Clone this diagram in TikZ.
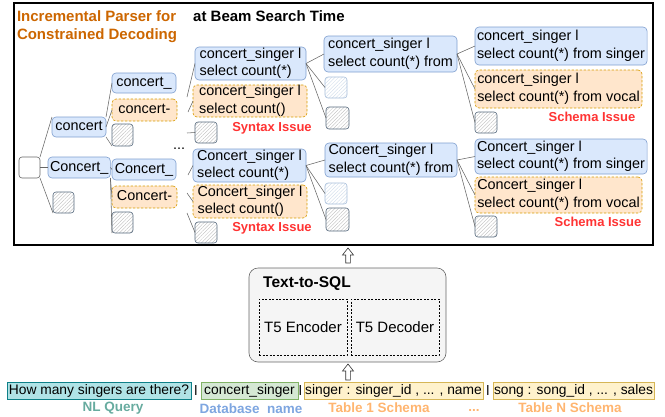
\documentclass[tikz,border=0pt]{standalone}
\usepackage{fontspec}
\setmainfont{Liberation Sans}
\usetikzlibrary{patterns.meta,calc}
\definecolor{bfill}{HTML}{DAE8FC}
\definecolor{bline}{HTML}{7F9FCF}
\definecolor{ofill}{HTML}{FFE6CC}
\definecolor{oline}{HTML}{D79B00}
\definecolor{hdark}{HTML}{56697D}
\definecolor{hlight}{HTML}{A8BFDB}
\definecolor{edgec}{HTML}{666666}
\definecolor{issue}{HTML}{FF3333}
\definecolor{titleor}{HTML}{CC6600}
\definecolor{nlfill}{HTML}{B0E3E6}
\definecolor{nlline}{HTML}{0E8088}
\definecolor{dbfill}{HTML}{D5E8D4}
\definecolor{dbline}{HTML}{82B366}
\definecolor{tfill}{HTML}{FFF2CC}
\definecolor{tline}{HTML}{D6B656}
\definecolor{nlc}{HTML}{67AB9F}
\definecolor{dbc}{HTML}{7EA6E0}
\definecolor{tc}{HTML}{FFB570}
\definecolor{boxfill}{HTML}{F5F5F5}
\newcommand{\hollowup}[2]{%
  \draw[hollowsty] let \p1=(#1), \p2=(#2) in
    (\x1-2.3pt,\y1) -- (\x1-2.3pt,\y2-7pt) -- (\x1-5.5pt,\y2-7pt) -- (\x2,\y2)
    -- (\x1+5.5pt,\y2-7pt) -- (\x1+2.3pt,\y2-7pt) -- (\x1+2.3pt,\y1) -- cycle;}
\tikzset{
  anch/.style={anchor=north west, inner sep=0pt, outer sep=0pt},
  tok/.style={anch, rounded corners=4pt, line width=0.6pt, inner xsep=2pt, align=left,
    font=\fontsize{14.4}{17.5}\selectfont},
  one/.style={text height=10.4pt, text depth=3.2pt},
  okbox/.style={tok, draw=bline, fill=bfill},
  badbox/.style={tok, draw=oline, fill=ofill, dash pattern=on 2.5pt off 1.5pt},
  hatchd/.style={anch, rounded corners=3pt, line width=0.6pt, draw=hdark,
    preaction={fill=white}, pattern={Lines[angle=45,distance=2.5pt,line width=0.35pt]},
    pattern color=gray!55, minimum width=22pt, minimum height=21pt},
  hatchl/.style={hatchd, draw=hlight, pattern color=hlight!60},
  emptybox/.style={anch, rounded corners=3pt, draw=edgec, fill=white, line width=0.6pt,
    minimum width=21pt, minimum height=21pt},
  link/.style={draw=edgec, line width=0.55pt},
  issuetxt/.style={text=issue, font=\bfseries\fontsize{13}{15}\selectfont, inner sep=0pt},
  hollowsty/.style={draw=black!80, fill=white, line width=0.6pt, line join=miter},
  rowsty/.style={anch, font=\fontsize{13.8}{16}\selectfont, inner xsep=1pt, inner ysep=0pt,
    minimum height=17pt, line width=0.6pt, text height=10pt, text depth=3pt},
  sepsty/.style={inner sep=0pt, font=\fontsize{13.8}{16}\selectfont},
  lblsty/.style={inner sep=0pt, font=\bfseries\fontsize{13.5}{15}\selectfont},
}
\begin{document}
\begin{tikzpicture}[x=1pt,y=-1pt]
\useasboundingbox (0,0) rectangle (665,416);
% frame
\node[anch, draw, line width=1.3pt, minimum width=639pt, minimum height=242pt] (frame) at (14,3) {};
\node[anch, align=left, text=titleor, font=\bfseries\fontsize{15}{18}\selectfont] (title) at (17,10.8)
  {Incremental Parser for\\Constrained Decoding};
\node[anchor=base west, inner sep=0pt, font=\bfseries\fontsize{15}{18}\selectfont] (beam) at (193,21.5)
  {at Beam Search Time};
% level 0/1
\node[emptybox] (r) at (19,157) {};
\node[okbox, one, minimum width=54pt, minimum height=20pt] (n1) at (52,117) {concert};
\node[okbox, one, minimum width=58pt, minimum height=21pt] (n2) at (48,157) {Concert\_};
\node[hatchd, minimum width=21pt] (h1) at (53,192) {};
% level 2
\node[okbox, one, minimum width=64pt, minimum height=20pt] (n11) at (112,73) {concert\_};
\node[badbox, one, minimum width=65pt, minimum height=22pt] (n12) at (112,99) {concert-};
\node[hatchd, minimum width=21pt, minimum height=22pt] (h11) at (112,124) {};
\node[okbox, one, minimum width=64pt, minimum height=21pt] (n21) at (112,159) {Concert\_};
\node[badbox, one, minimum width=65pt, minimum height=22pt] (n22) at (112,186) {Concert-};
\node[hatchd, minimum width=21pt] (h21) at (112,212) {};
% level 3
\node[okbox, minimum width=111pt, minimum height=33pt] (n111) at (195,47) {concert\_singer l\\select count(*)};
\node[badbox, minimum width=114pt, minimum height=32pt] (n112) at (193,85) {concert\_singer l\\select count()};
\node[issuetxt] (s1) at (272,128) {Syntax Issue};
\node[hatchd] (h111) at (195,122) {};
\node[inner sep=0pt, font=\fontsize{14.4}{17.5}\selectfont] (dots) at (179,149) {...};
\node[okbox, minimum width=113pt, minimum height=33pt] (n211) at (193,149) {Concert\_singer l\\select count(*)};
\node[badbox, minimum width=114pt, minimum height=33pt] (n212) at (193,185) {Concert\_singer l\\select count()};
\node[issuetxt] (s2) at (272,228) {Syntax Issue};
\node[hatchd] (h211) at (195,222) {};
% level 4
\node[okbox, minimum width=133pt, minimum height=36pt] (n1111) at (324,36) {concert\_singer l\\select count(*) from};
\node[hatchl] (hl1) at (325,77) {};
\node[hatchd, minimum width=23pt, minimum height=22pt] (hd1) at (326,107) {};
\node[okbox, minimum width=132pt, minimum height=34pt] (n2111) at (325,143) {Concert\_singer l\\select count(*) from};
\node[hatchl] (hl2) at (325,183) {};
\node[hatchd, minimum width=23pt, minimum height=23pt] (hd2) at (326,208) {};
% level 5
\node[okbox, minimum width=172pt, minimum height=38pt] (n11111) at (475,27) {concert\_singer l\\select count(*) from singer};
\node[badbox, minimum width=167pt, minimum height=38pt] (n11112) at (475,70) {concert\_singer l\\select count(*) from vocal};
\node[issuetxt] (sc1) at (592,117) {Schema Issue};
\node[hatchd] (h11113) at (475,112) {};
\node[okbox, minimum width=172pt, minimum height=35pt] (n21111) at (475,139) {Concert\_singer l\\select count(*) from singer};
\node[badbox, minimum width=167pt, minimum height=36pt] (n21112) at (475,177) {Concert\_singer l\\select count(*) from vocal};
\node[issuetxt] (sc2) at (598,222) {Schema Issue};
\node[hatchd] (h21113) at (475,216) {};
% connectors
\draw[link] (r.north east) -- (n1.north west);
\draw[link] (r.east) -- (n2.west);
\draw[link] (r.south east) -- (h1.south west);
\draw[link] (n1.north east) -- (n11.west);
\draw[link] (n1.east) -- (n12.west);
\draw[link] (n1.south east) -- (h11.south west);
\draw[link] (n2.east) -- (n21.west);
\draw[link] (n2.south east) -- (n22.west);
\draw[link] (n2.south east) -- (h21.south west);
\coordinate (st1) at (187,97);
\coordinate (st2) at (188,112);
\coordinate (st3) at (187,133);
\coordinate (st4) at (188,175);
\coordinate (st5) at (187,193);
\coordinate (st6) at (187,213);
\draw[link] (st1) -- (n111.west);
\draw[link] (st2) -- (n112.west);
\draw[link] (st3) -- (h111.west);
\draw[link] (st4) -- (n211.west);
\draw[link] (st5) -- (n212.west);
\draw[link] (st6) -- (h211.west);
\draw[link] (n111.east) -- (n1111.west);
\draw[link] (n111.east) -- (hl1.west);
\draw[link] (n111.east) -- (hd1.west);
\draw[link] (n211.east) -- (n2111.west);
\draw[link] (n211.east) -- (hl2.west);
\draw[link] (n211.east) -- (hd2.west);
\draw[link] (n1111.east) -- (n11111.west);
\draw[link] (n1111.east) -- (n11112.west);
\draw[link] (n1111.east) -- (h11113.west);
\draw[link] (n2111.east) -- (n21111.west);
\draw[link] (n2111.east) -- (n21112.west);
\draw[link] (n2111.east) -- (h21113.west);
% model
\node[anch, draw=edgec, fill=boxfill, rounded corners=9pt, line width=0.6pt,
  minimum width=197pt, minimum height=94pt] (tts) at (249,268) {};
\node[anchor=west, inner sep=0pt, font=\bfseries\fontsize{15.5}{18}\selectfont] (ttsl) at (263,284) {Text-to-SQL};
\node[anch, draw, line width=0.6pt, dash pattern=on 2pt off 1.5pt, minimum width=88pt, minimum height=56pt,
  font=\fontsize{15}{18}\selectfont] (enc) at (259,299) {T5 Encoder};
\node[anch, draw, line width=0.6pt, dash pattern=on 2pt off 1.5pt, minimum width=88pt, minimum height=56pt,
  font=\fontsize{15}{18}\selectfont] (dec) at (351,299) {T5 Decoder};
\coordinate (a1s) at (348,263);
\coordinate (a1e) at (348,248);
\coordinate (a2s) at (348,380);
\coordinate (a2e) at (348,364);
\hollowup{a1s}{a1e}
\hollowup{a2s}{a2e}
% input row
\node[rowsty, draw=nlline, fill=nlfill, minimum width=184pt] (q) at (7,382) {How many singers are there?};
\node[sepsty] (p1) at (196,390.5) {l};
\node[rowsty, draw=dbline, fill=dbfill, minimum width=97pt] (db) at (201,382) {concert\_singer};
\node[sepsty] (p2) at (300.5,390.5) {l};
\node[rowsty, draw=tline, fill=tfill, minimum width=179pt] (t1) at (304,382) {singer : singer\_id , ... , name};
\node[sepsty] (p3) at (488,390.5) {l};
\node[rowsty, draw=tline, fill=tfill, minimum width=161pt] (tn) at (493,382) {song : song\_id , ... , sales};
\node[lblsty, text=nlc] (lq) at (113,408) {NL Query};
\node[lblsty, text=dbc] (ldb) at (251,408.5) {Database\ \ name};
\node[lblsty, text=tc] (lt1) at (379,408) {Table 1 Schema};
\node[lblsty, text=tc] (ldots) at (474,410) {...};
\node[lblsty, text=tc] (ltn) at (570,408) {Table N Schema};
\end{tikzpicture}
\end{document}
